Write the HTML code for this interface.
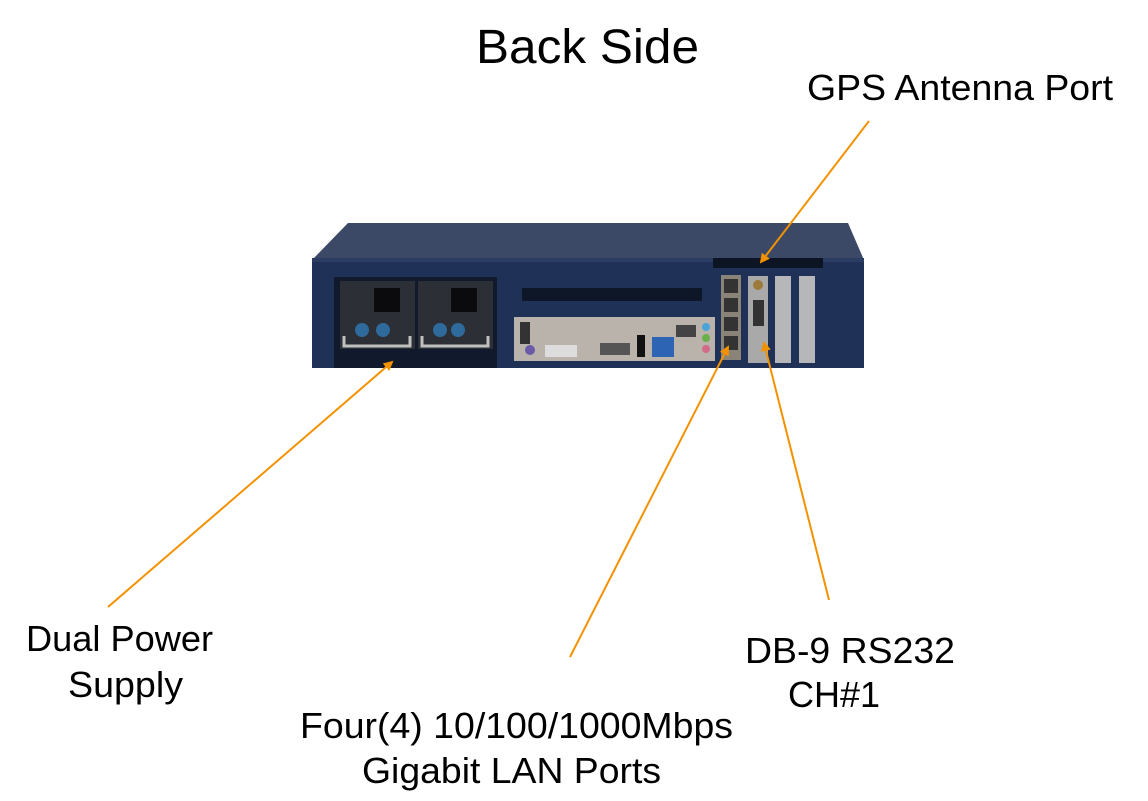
<!DOCTYPE html>
<html><head><meta charset="utf-8"><style>
html,body{margin:0;padding:0;background:#fff;}
svg{display:block;}
text{font-family:"Liberation Sans",Arial,sans-serif;fill:#000;}
</style></head><body>
<svg width="1148" height="801" viewBox="0 0 1148 801" xmlns="http://www.w3.org/2000/svg">
<defs>
<marker id="ah" markerWidth="10" markerHeight="10" refX="8" refY="5" orient="auto" markerUnits="userSpaceOnUse">
<path d="M0,0 L10,5 L0,10 z" fill="#f39200"/>
</marker>
</defs>
<text x="476" y="63" font-size="48" textLength="223" lengthAdjust="spacingAndGlyphs">Back Side</text>
<text x="807" y="100" font-size="36" textLength="306" lengthAdjust="spacingAndGlyphs">GPS Antenna Port</text>
<text x="26" y="651" font-size="36" textLength="187" lengthAdjust="spacingAndGlyphs">Dual Power</text>
<text x="68" y="697" font-size="36" textLength="115" lengthAdjust="spacingAndGlyphs">Supply</text>
<text x="745" y="663" font-size="36" textLength="210" lengthAdjust="spacingAndGlyphs">DB-9 RS232</text>
<text x="788" y="707" font-size="36" textLength="92" lengthAdjust="spacingAndGlyphs">CH#1</text>
<text x="300" y="738" font-size="36" textLength="433" lengthAdjust="spacingAndGlyphs">Four(4) 10/100/1000Mbps</text>
<text x="362" y="783" font-size="36" textLength="299" lengthAdjust="spacingAndGlyphs">Gigabit LAN Ports</text>

<path d="M348,223 L848,223 L864,260 L312,260 Z" fill="#3b4967"/>
<rect x="312" y="258" width="552" height="110" fill="#1f3157"/>
<rect x="312" y="258" width="552" height="4" fill="#2b3d63"/>
<rect x="334" y="277" width="163" height="91" fill="#111a2c"/>
<rect x="340" y="281" width="75" height="68" fill="#2c2f35"/>
<rect x="418" y="281" width="75" height="68" fill="#2c2f35"/>
<rect x="374" y="288" width="26" height="24" fill="#0b0b0d"/>
<rect x="451" y="288" width="26" height="24" fill="#0b0b0d"/>
<circle cx="362" cy="330" r="7" fill="#2e6b9c"/><circle cx="383" cy="330" r="7" fill="#2e6b9c"/>
<circle cx="440" cy="330" r="7" fill="#2e6b9c"/><circle cx="458" cy="330" r="7" fill="#2e6b9c"/>
<path d="M344,336 v10 h66 v-10" stroke="#c0c0c0" stroke-width="3" fill="none"/>
<path d="M422,336 v10 h66 v-10" stroke="#c0c0c0" stroke-width="3" fill="none"/>
<rect x="522" y="288" width="180" height="13" fill="#0e1728"/>
<rect x="514" y="317" width="201" height="44" fill="#b9b3ab"/>
<rect x="520" y="322" width="10" height="22" fill="#333"/>
<circle cx="530" cy="350" r="5" fill="#6a5aa8"/>
<rect x="545" y="345" width="32" height="12" fill="#ddd"/>
<rect x="600" y="343" width="30" height="12" fill="#555"/>
<rect x="637" y="335" width="8" height="22" fill="#111"/>
<rect x="652" y="337" width="22" height="20" fill="#2e64b4"/>
<rect x="676" y="325" width="20" height="12" fill="#444"/>
<circle cx="706" cy="327" r="4" fill="#4aa4d8"/><circle cx="706" cy="338" r="4" fill="#6ab04a"/><circle cx="706" cy="349" r="4" fill="#d46a8a"/>
<rect x="713" y="258" width="110" height="10" fill="#0d1424"/>
<rect x="721" y="275" width="20" height="85" fill="#8a8478"/>
<rect x="724" y="279" width="14" height="14" fill="#333"/>
<rect x="724" y="298" width="14" height="14" fill="#333"/>
<rect x="724" y="317" width="14" height="14" fill="#333"/>
<rect x="724" y="336" width="14" height="14" fill="#333"/>
<rect x="748" y="276" width="20" height="87" fill="#a9a9a9"/>
<circle cx="758" cy="285" r="5" fill="#9c7a3a"/>
<rect x="753" y="300" width="11" height="26" fill="#333"/>
<rect x="775" y="276" width="16" height="87" fill="#b5b7b9"/>
<rect x="799" y="276" width="16" height="87" fill="#b5b7b9"/>

<g stroke="#f39200" stroke-width="2" fill="none">
<line x1="869" y1="121" x2="761" y2="262" marker-end="url(#ah)"/>
<line x1="108" y1="607" x2="392" y2="362" marker-end="url(#ah)"/>
<line x1="570" y1="657" x2="728" y2="347" marker-end="url(#ah)"/>
<line x1="829" y1="600" x2="764" y2="343" marker-end="url(#ah)"/>
</g>
</svg>
</body></html>
